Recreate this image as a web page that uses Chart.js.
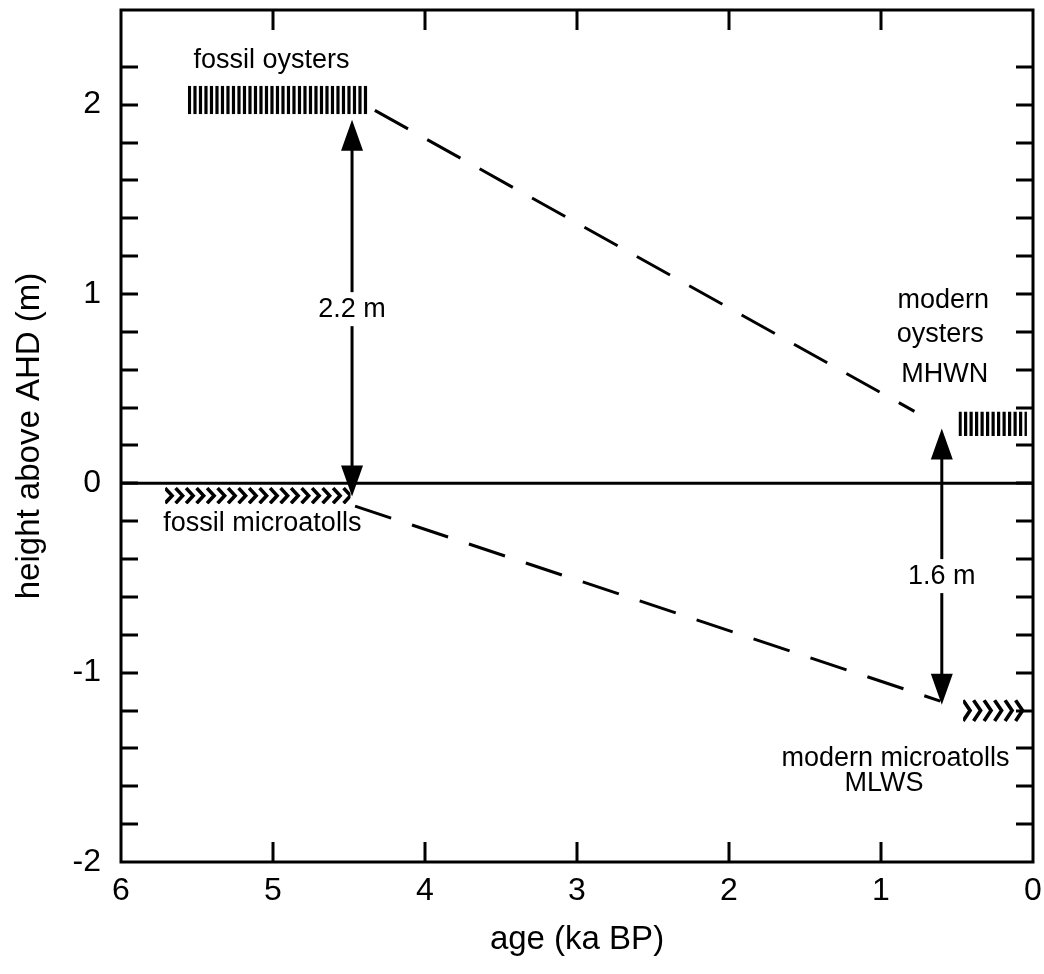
<!DOCTYPE html>
<html>
<head>
<meta charset="utf-8">
<script src="https://cdn.jsdelivr.net/npm/chart.js@4"></script>
<style>
  html, body { margin: 0; padding: 0; background: #fff; }
  #wrap { width: 1044px; height: 974px; }
</style>
</head>
<body>
<div id="wrap"><canvas id="sea_chart"></canvas></div>
<script>
const AGE_MIN = 0, AGE_MAX = 6;
const HEIGHT_MIN = -2, HEIGHT_MAX = 2.5;

// indicator bands (ka BP / m above AHD)
var bandKind = ['oyster', 'oyster', 'microatoll', 'microatoll'];
var bandAgeFrom = [5.56, 0.49, 5.71, 0.46];
var bandAgeTo = [4.37, 0.04, 4.49, 0.02];
var bandLow = [1.95, 0.25, -0.11, -1.26];
var bandHigh = [2.10, 0.38, -0.02, -1.14];

// dashed trend lines
var upperAges = [4.33, 0.78];
var upperHeights = [1.97, 0.38];
var lowerAges = [4.46, 0.61];
var lowerHeights = [-0.12, -1.15];

// AHD datum
var zeroAges = [6, 0];
var zeroHeights = [0, 0];

// double arrows with their labels
var arrowAge = [4.48, 0.6];
var arrowTop = [1.92, 0.29];
var arrowBottom = [-0.07, -1.17];
var arrowText = ['2.2 m', '1.6 m'];
var arrowTextHeight = [0.92, -0.49];

// text notes (centre age, baseline height)
var noteText = ['fossil oysters', 'fossil microatolls', 'modern', 'oysters', 'MHWN', 'modern microatolls', 'MLWS'];
var noteAge = [5.01, 5.07, 0.59, 0.61, 0.58, 0.905, 0.98];
var noteHeight = [2.195, -0.25, 0.926, 0.747, 0.537, -1.495, -1.626];

const FONT = "'Liberation Sans', Arial, Helvetica, sans-serif";
const NOTE_FONT = '27px ' + FONT;
Chart.defaults.font.family = FONT;
Chart.defaults.font.size = 32;
Chart.defaults.color = '#000';

function toPoints(xs, ys) {
  return xs.map((x, i) => ({x: x, y: ys[i]}));
}

function isWhole(v) {
  return Math.abs(v - Math.round(v)) < 1e-6;
}

// hatched / chevron bands
const bandsPlugin = {
  id: 'bands',
  afterDatasetsDraw(chart) {
    const {ctx, scales: {x, y}} = chart;
    ctx.save();
    ctx.strokeStyle = '#000';
    for (let i = 0; i < bandKind.length; i++) {
      let xa = x.getPixelForValue(bandAgeFrom[i]);
      let xb = x.getPixelForValue(bandAgeTo[i]);
      let x0 = Math.min(xa, xb), x1 = Math.max(xa, xb);
      let ty = y.getPixelForValue(bandHigh[i]);
      let by = y.getPixelForValue(bandLow[i]);
      ctx.save();
      ctx.beginPath();
      ctx.rect(x0, ty, x1 - x0, by - ty);
      ctx.clip();
      ctx.beginPath();
      if (bandKind[i] == 'oyster') {
        ctx.lineWidth = 3.2;
        for (let lx = x0 + 1.6; lx <= x1; lx += 5.5) {
          ctx.moveTo(lx, ty);
          ctx.lineTo(lx, by);
        }
      } else {
        ctx.lineWidth = 3.6;
        let mid = (ty + by) / 2;
        for (let cx = x0; cx + 6 <= x1; cx += 10.5) {
          ctx.moveTo(cx, ty + 1);
          ctx.lineTo(cx + 7, mid);
          ctx.lineTo(cx, by - 1);
        }
      }
      ctx.stroke();
      ctx.restore();
    }
    ctx.restore();
  }
};

const arrowsPlugin = {
  id: 'arrows',
  afterDatasetsDraw(chart) {
    const {ctx, scales: {x, y}} = chart;
    const headLen = 31, headHalf = 11;
    ctx.save();
    ctx.fillStyle = '#000';
    ctx.strokeStyle = '#000';
    ctx.lineWidth = 3;
    for (let i = 0; i < arrowAge.length; i++) {
      let px = x.getPixelForValue(arrowAge[i]);
      let t = y.getPixelForValue(arrowTop[i]);
      let b = y.getPixelForValue(arrowBottom[i]);
      ctx.beginPath();
      ctx.moveTo(px, t + headLen - 2);
      ctx.lineTo(px, b - headLen + 2);
      ctx.stroke();
      ctx.beginPath();
      ctx.moveTo(px, t);
      ctx.lineTo(px - headHalf, t + headLen);
      ctx.lineTo(px + headHalf, t + headLen);
      ctx.closePath();
      ctx.moveTo(px, b);
      ctx.lineTo(px - headHalf, b - headLen);
      ctx.lineTo(px + headHalf, b - headLen);
      ctx.closePath();
      ctx.fill();

      let ly = y.getPixelForValue(arrowTextHeight[i]);
      ctx.font = NOTE_FONT;
      let w = ctx.measureText(arrowText[i]).width;
      ctx.fillStyle = '#fff';
      ctx.fillRect(px - w / 2 - 2, ly - 17, w + 4, 34);
      ctx.fillStyle = '#000';
      ctx.textAlign = 'center';
      ctx.textBaseline = 'middle';
      ctx.fillText(arrowText[i], px, ly);
    }
    ctx.restore();
  }
};

const notesPlugin = {
  id: 'notes',
  afterDatasetsDraw(chart) {
    const {ctx, scales: {x, y}} = chart;
    ctx.save();
    ctx.font = NOTE_FONT;
    ctx.fillStyle = '#000';
    ctx.textAlign = 'center';
    ctx.textBaseline = 'alphabetic';
    noteText.forEach((txt, i) => {
      ctx.fillText(txt, x.getPixelForValue(noteAge[i]), y.getPixelForValue(noteHeight[i]));
    });
    ctx.restore();
  }
};

// frame plus inward tick marks on all four sides
const framePlugin = {
  id: 'frame',
  afterDraw(chart) {
    const {ctx, chartArea: a, scales: {x, y}} = chart;
    ctx.save();
    ctx.strokeStyle = '#000';
    ctx.lineWidth = 3;
    ctx.beginPath();
    y.ticks.forEach(t => {
      if (t.value <= HEIGHT_MIN + 1e-6 || t.value >= HEIGHT_MAX - 1e-6) return;
      let py = Math.round(y.getPixelForValue(t.value));
      ctx.moveTo(a.left, py);
      ctx.lineTo(a.left + 17, py);
      ctx.moveTo(a.right, py);
      ctx.lineTo(a.right - 17, py);
    });
    x.ticks.forEach(t => {
      if (t.value <= AGE_MIN || t.value >= AGE_MAX) return;
      let px = Math.round(x.getPixelForValue(t.value));
      ctx.moveTo(px, a.bottom);
      ctx.lineTo(px, a.bottom - 20);
      ctx.moveTo(px, a.top);
      ctx.lineTo(px, a.top + 20);
    });
    ctx.stroke();
    ctx.strokeRect(a.left, a.top, a.right - a.left, a.bottom - a.top);
    ctx.restore();
  }
};

var sea_chart = new Chart('sea_chart', {
  type: 'line',
  data: {
    datasets: [{
      label: 'AHD',
      data: toPoints(zeroAges, zeroHeights),
      borderColor: '#000',
      borderWidth: 3,
      pointRadius: 0,
      fill: false
    }, {
      label: 'upper trend',
      data: toPoints(upperAges, upperHeights),
      borderColor: '#000',
      borderWidth: 3,
      borderDash: [38, 22],
      pointRadius: 0,
      fill: false
    }, {
      label: 'lower trend',
      data: toPoints(lowerAges, lowerHeights),
      borderColor: '#000',
      borderWidth: 3,
      borderDash: [38, 22],
      pointRadius: 0,
      fill: false
    }]
  },
  options: {
    responsive: true,
    maintainAspectRatio: false,
    animation: false,
    layout: { padding: { top: 10, right: 11, left: 0, bottom: 0 } },
    plugins: {
      legend: { display: false },
      tooltip: { enabled: false }
    },
    scales: {
      x: {
        type: 'linear',
        min: AGE_MIN,
        max: AGE_MAX,
        reverse: true,
        grid: { display: false, drawTicks: false },
        border: { display: false },
        ticks: { stepSize: 1, padding: 10, autoSkip: false, maxRotation: 0 },
        title: { display: true, text: 'age (ka BP)', font: { size: 33 }, padding: { top: 0, bottom: 14 } },
        afterFit(scale) {
          scale.height = 112;
          scale.paddingLeft = 0;
          scale.paddingRight = 0;
        }
      },
      y: {
        type: 'linear',
        min: HEIGHT_MIN,
        max: HEIGHT_MAX,
        grid: { display: false, drawTicks: false },
        border: { display: false },
        ticks: {
          stepSize: 0.2,
          padding: 20,
          autoSkip: false,
          callback: v => isWhole(v) ? String(Math.round(v)) : ''
        },
        title: { display: true, text: 'height above AHD (m)', font: { size: 33 }, padding: { top: 10, bottom: 0 } },
        afterFit(scale) {
          scale.width = 121;
          scale.paddingTop = 0;
          scale.paddingBottom = 0;
        }
      }
    }
  },
  plugins: [bandsPlugin, arrowsPlugin, notesPlugin, framePlugin]
});
</script>
</body>
</html>
